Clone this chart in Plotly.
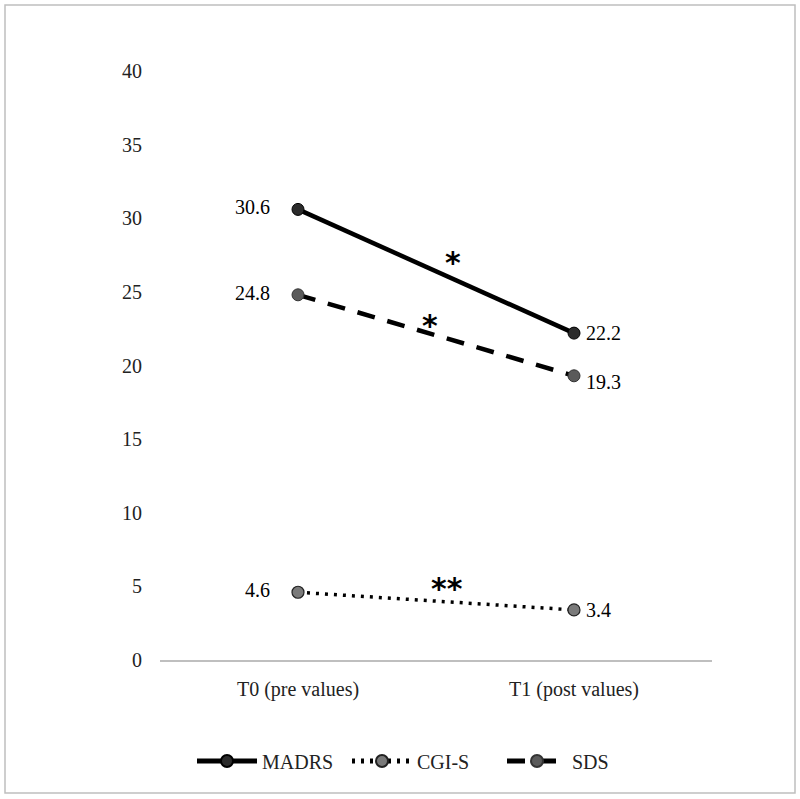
import plotly.graph_objects as go

categories = ["T0 (pre values)", "T1 (post values)"]
madrs = [30.6, 22.2]
cgis = [4.6, 3.4]
sds = [24.8, 19.3]
series_names = ["MADRS", "CGI-S", "SDS"]
y_ticks = [0, 5, 10, 15, 20, 25, 30, 35, 40]
star_labels = ["*", "**", "*"]

FONT = "Liberation Serif"

fig = go.Figure()

fig.add_trace(go.Scatter(
    x=categories, y=madrs, name=series_names[0], mode="lines+markers",
    line=dict(color="black", width=4.5),
    marker=dict(size=12, color="#2b2b2b", line=dict(color="black", width=1)),
))
fig.add_trace(go.Scatter(
    x=categories, y=cgis, name=series_names[1], mode="lines+markers",
    line=dict(color="black", width=3.5, dash="3px,6px"),
    marker=dict(size=12, color="#7a7a7a", line=dict(color="#222", width=1.2)),
))
fig.add_trace(go.Scatter(
    x=categories, y=sds, name=series_names[2], mode="lines+markers",
    line=dict(color="black", width=4.5, dash="18px,13px"),
    marker=dict(size=12, color="#5a5a5a", line=dict(color="#333", width=1)),
))

annotations = []
for vals, yshift_r in [(madrs, 0), (cgis, 0), (sds, -6)]:
    annotations.append(dict(x=categories[0], y=vals[0], text=f"{vals[0]}", showarrow=False,
                            xanchor="right", xshift=-26, yshift=2,
                            font=dict(family=FONT, size=20, color="black")))
    annotations.append(dict(x=categories[1], y=vals[1], text=f"{vals[1]}", showarrow=False,
                            xanchor="left", xshift=10, yshift=yshift_r,
                            font=dict(family=FONT, size=20, color="black")))

stars = [(0.56, 27.0, star_labels[0]), (0.54, 4.85, star_labels[1]), (0.48, 22.75, star_labels[2])]
for sx, sy, st in stars:
    annotations.append(dict(x=sx, y=sy, text=f"<b>{st}</b>", showarrow=False,
                            xref="x", yref="y",
                            font=dict(family="DejaVu Sans", size=30, color="black")))

fig.update_layout(
    width=800, height=799,
    margin=dict(l=160, r=88, t=71, b=139),
    paper_bgcolor="white", plot_bgcolor="white",
    font=dict(family=FONT, size=20, color="#222"),
    showlegend=True,
    legend=dict(orientation="h", xref="container", yref="container",
                x=0.24, y=0.0476, xanchor="left", yanchor="middle",
                itemwidth=60, entrywidth=80, entrywidthmode="pixels",
                font=dict(family=FONT, size=20, color="#222"),
                tracegroupgap=0, itemsizing="constant"),
    annotations=annotations,
    shapes=[dict(type="rect", xref="paper", yref="paper",
                 x0=(5 - 160) / 552, x1=(795 - 160) / 552,
                 y0=(660 - 793) / 589, y1=(660 - 5) / 589,
                 line=dict(color="#bfbfbf", width=1.5), fillcolor="rgba(0,0,0,0)", layer="below")],
)
fig.update_xaxes(type="category", showgrid=False, showline=True, linecolor="#bfbfbf", linewidth=2,
                 ticks="", tickfont=dict(family=FONT, size=20, color="#222"), ticklabelstandoff=10,
                 range=[-0.5, 1.5], zeroline=False)
fig.update_yaxes(range=[0, 40], tickvals=y_ticks, showgrid=False, showline=False, zeroline=False,
                 ticks="", tickfont=dict(family=FONT, size=20, color="#222"), ticklabelstandoff=17)

fig.write_html("out.html")
